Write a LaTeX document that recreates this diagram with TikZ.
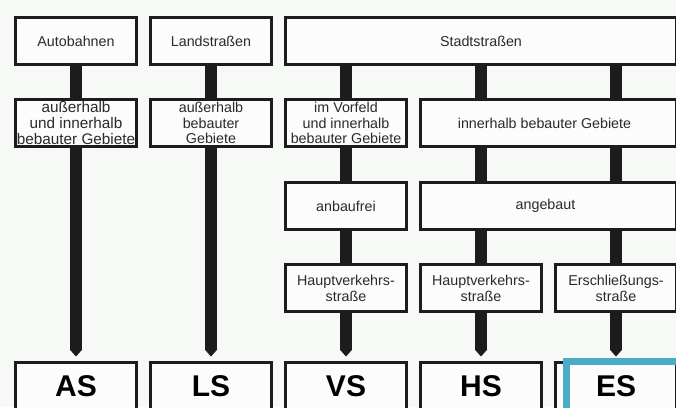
\documentclass[tikz,border=0pt]{standalone}
\usepackage{fontspec}
\setmainfont{Liberation Sans}
\usetikzlibrary{arrows.meta}
\definecolor{bg}{HTML}{F7F9F6}
\definecolor{boxfill}{HTML}{FBFCFB}
\definecolor{ink}{HTML}{1C1C1C}
\definecolor{txt}{HTML}{2A2A2A}
\definecolor{hl}{HTML}{4BACC6}
\begin{document}
\begin{tikzpicture}[x=1pt,y=-1pt,
  box/.style={draw=ink, line width=2.6pt, fill=boxfill, inner sep=0pt,
    minimum height=47.4pt, minimum width=121.4pt, text=txt,
    font=\fontsize{14.3}{15.8}\selectfont, align=center},
  wide/.style={minimum width=#1},
  big/.style={font=\fontsize{30}{32}\selectfont\bfseries, text=black},
  bar/.style={draw=ink, line width=12.5pt},
  barr/.style={bar, -{Triangle[width=12.5pt 0 0, length=7pt 0 0, line width=0pt, sep=1.5pt 0 0]}, shorten >=3pt},
  highlight/.style={draw=hl, line width=6.5pt}
]
\path[use as bounding box, fill=bg] (0,0) rectangle (676,407);
\clip (0,0) rectangle (676,407);

% row 1
\node[box] (autob) at (76,41) {Autobahnen};
\node[box] (landstr) at (211,41) {Landstraßen};
\node[box, wide=391.4pt] (stadt) at (481,41) {Stadtstraßen};
% row 2
\node[box, font=\fontsize{15.3}{16}\selectfont] (ai1) at (76,123) {außerhalb\\und innerhalb\\bebauter Gebiete};
\node[box] (ai2) at (211,123) {außerhalb\\bebauter\\Gebiete};
\node[box] (vfeld) at (346,123) {im Vorfeld\\und innerhalb\\bebauter Gebiete};
\node[box, wide=256.4pt] (ibg) at (548.5,123) {innerhalb bebauter Gebiete\hspace*{8pt}};
% row 3
\node[box] (anbf) at (346,206) {anbaufrei};
\node[box, wide=256.4pt] (angb) at (548.5,206) {angebaut\hspace*{6pt}};
% row 4
\node[box] (hvs1) at (346,288) {Hauptverkehrs-\\straße};
\node[box] (hvs2) at (481,288) {Hauptverkehrs-\\straße};
\node[box] (erschl) at (616,288) {Erschließungs-\\straße};
% row 5
\node[box, big] (as) at (76,386) {AS};
\node[box, big] (ls) at (211,386) {LS};
\node[box, big] (vs) at (346,386) {VS};
\node[box, big] (hs) at (481,386) {HS};
\node[box, big] (es) at (616,386) {ES};

\coordinate (hlA) at (566.5,361.5);
\coordinate (hlB) at (700,430);
\draw[highlight] (hlA) rectangle (hlB);

% connectors
\draw[bar] (autob.south) -- (ai1.north);
\draw[barr] (ai1.south) -- (as.north);
\draw[bar] (landstr.south) -- (ai2.north);
\draw[barr] (ai2.south) -- (ls.north);

\draw[bar] (vfeld.north |- stadt.south) -- (vfeld.north);
\draw[bar] (vfeld.south) -- (anbf.north);
\draw[bar] (anbf.south) -- (hvs1.north);
\draw[barr] (hvs1.south) -- (vs.north);

\draw[bar] (hvs2.north |- stadt.south) -- (hvs2.north |- ibg.north);
\draw[bar] (hvs2.north |- ibg.south) -- (hvs2.north |- angb.north);
\draw[bar] (hvs2.north |- angb.south) -- (hvs2.north);
\draw[barr] (hvs2.south) -- (hs.north);

\draw[bar] (erschl.north |- stadt.south) -- (erschl.north |- ibg.north);
\draw[bar] (erschl.north |- ibg.south) -- (erschl.north |- angb.north);
\draw[bar] (erschl.north |- angb.south) -- (erschl.north);
\draw[barr] (erschl.south) -- (es.north);
\end{tikzpicture}
\end{document}
